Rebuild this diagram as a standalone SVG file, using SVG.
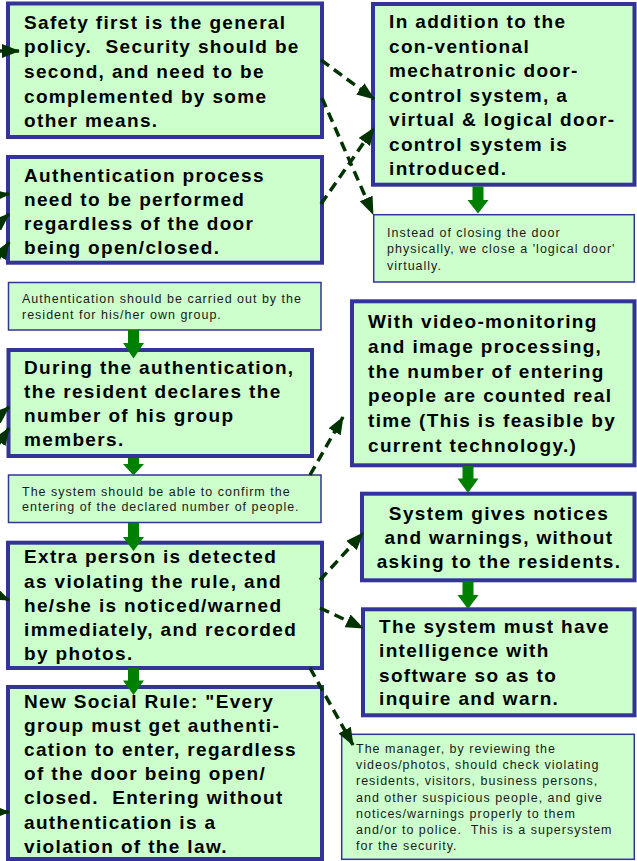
<svg xmlns="http://www.w3.org/2000/svg" width="637" height="861" viewBox="0 0 637 861">
  <style>
    .box { fill: #ccffcc; stroke: #333399; stroke-width: 4; }
    .note { fill: #ccffcc; stroke: #333399; stroke-width: 1.5; }
    .b { font-family: "Liberation Sans", Arial, sans-serif; font-weight: bold; font-size: 19px; letter-spacing: 1.35px; white-space: pre; fill: #000; }
    .s { font-family: "Liberation Sans", Arial, sans-serif; font-size: 12.5px; letter-spacing: 1px; white-space: pre; fill: #1a1a1a; }
    .flow { fill: #008000; }
    .dash { fill: none; stroke: #003300; stroke-width: 3.5; stroke-dasharray: 10 6; marker-end: url(#head); }
    .stub { fill: none; stroke: #003300; stroke-width: 3.5; marker-end: url(#head); }
  </style>
  <defs>
    <marker id="head" viewBox="0 0 18 14" refX="17" refY="7" markerWidth="18" markerHeight="14" markerUnits="userSpaceOnUse" orient="auto">
      <path d="M0,0 L18,7 L0,14 z" fill="#003300"/>
    </marker>
  </defs>

  <g id="safety-first">
    <rect class="box" x="8" y="3.5" width="314" height="133.5"/>
    <text class="b" x="24" y="28.5">Safety first is the general</text>
    <text class="b" x="24" y="53.2">policy.  Security should be</text>
    <text class="b" x="24" y="77.9">second, and need to be</text>
    <text class="b" x="24" y="102.6">complemented by some</text>
    <text class="b" x="24" y="127.3">other means.</text>
  </g>

  <g id="virtual-door">
    <rect class="box" x="373" y="4" width="261.5" height="180.7"/>
    <text class="b" x="389" y="28.3">In addition to the</text>
    <text class="b" x="389" y="52.8">con-ventional</text>
    <text class="b" x="389" y="77.3">mechatronic door-</text>
    <text class="b" x="389" y="101.8">control system, a</text>
    <text class="b" x="389" y="126.3">virtual &amp; logical door-</text>
    <text class="b" x="389" y="150.8">control system is</text>
    <text class="b" x="389" y="175.3">introduced.</text>
  </g>

  <g id="auth-process">
    <rect class="box" x="8" y="157" width="314" height="105.7"/>
    <text class="b" x="24" y="181.5">Authentication process</text>
    <text class="b" x="24" y="205.7">need to be performed</text>
    <text class="b" x="24" y="229.9">regardless of the door</text>
    <text class="b" x="24" y="254.1">being open/closed.</text>
  </g>

  <g id="auth-by-resident">
    <rect class="note" x="8.5" y="282.5" width="312.5" height="47.5"/>
    <text class="s" x="22" y="302.5">Authentication should be carried out by the</text>
    <text class="s" x="22" y="318.8">resident for his/her own group.</text>
  </g>

  <g id="logical-door">
    <rect class="note" x="373.7" y="214.7" width="260.6" height="67.3"/>
    <text class="s" x="387" y="236.7">Instead of closing the door</text>
    <text class="s" x="387" y="253.2">physically, we close a 'logical door'</text>
    <text class="s" x="387" y="269.5">virtually.</text>
  </g>

  <g id="declare-members">
    <rect class="box" x="8.5" y="350" width="303.5" height="106"/>
    <text class="b" x="24" y="373.5">During the authentication,</text>
    <text class="b" x="24" y="397.6">the resident declares the</text>
    <text class="b" x="24" y="421.7">number of his group</text>
    <text class="b" x="24" y="445.8">members.</text>
  </g>

  <g id="confirm-entering">
    <rect class="note" x="8.5" y="475" width="312.5" height="47.5"/>
    <text class="s" x="22" y="495.8">The system should be able to confirm the</text>
    <text class="s" x="22" y="511">entering of the declared number of people.</text>
  </g>

  <g id="video-monitoring">
    <rect class="box" x="352" y="301.3" width="282.5" height="164"/>
    <text class="b" x="368" y="328.3">With video-monitoring</text>
    <text class="b" x="368" y="353">and image processing,</text>
    <text class="b" x="368" y="377.7">the number of entering</text>
    <text class="b" x="368" y="402.4">people are counted real</text>
    <text class="b" x="368" y="427.1">time (This is feasible by</text>
    <text class="b" x="368" y="451.8">current technology.)</text>
  </g>

  <g id="notices-warnings">
    <rect class="box" x="362" y="493.7" width="272.5" height="86.6"/>
    <text class="b" x="499" y="520" text-anchor="middle">System gives notices</text>
    <text class="b" x="499" y="544" text-anchor="middle">and warnings, without</text>
    <text class="b" x="499" y="568.3" text-anchor="middle">asking to the residents.</text>
  </g>

  <g id="intelligence">
    <rect class="box" x="363" y="609.3" width="271.5" height="106"/>
    <text class="b" x="379" y="633.3">The system must have</text>
    <text class="b" x="379" y="657.3">intelligence with</text>
    <text class="b" x="379" y="681.6">software so as to</text>
    <text class="b" x="379" y="705.3">inquire and warn.</text>
  </g>

  <g id="extra-person">
    <rect class="box" x="8" y="542.7" width="314" height="125.3"/>
    <text class="b" x="24" y="563.3">Extra person is detected</text>
    <text class="b" x="24" y="587.5">as violating the rule, and</text>
    <text class="b" x="24" y="611.7">he/she is noticed/warned</text>
    <text class="b" x="24" y="635.9">immediately, and recorded</text>
    <text class="b" x="24" y="660.1">by photos.</text>
  </g>

  <g id="social-rule">
    <rect class="box" x="8" y="687" width="314" height="172"/>
    <text class="b" x="24" y="707.5">New Social Rule: "Every</text>
    <text class="b" x="24" y="731.7">group must get authenti-</text>
    <text class="b" x="24" y="755.9">cation to enter, regardless</text>
    <text class="b" x="24" y="780.1">of the door being open/</text>
    <text class="b" x="24" y="804.3">closed.  Entering without</text>
    <text class="b" x="24" y="828.5">authentication is a</text>
    <text class="b" x="24" y="852.7">violation of the law.</text>
  </g>

  <g id="manager-review">
    <rect class="note" x="341.7" y="734.3" width="292.6" height="125"/>
    <text class="s" x="356" y="753.3">The manager, by reviewing the</text>
    <text class="s" x="356" y="769.3">videos/photos, should check violating</text>
    <text class="s" x="356" y="785.3">residents, visitors, business persons,</text>
    <text class="s" x="356" y="801.7">and other suspicious people, and give</text>
    <text class="s" x="356" y="817.8">notices/warnings properly to them</text>
    <text class="s" x="356" y="833.5">and/or to police.  This is a supersystem</text>
    <text class="s" x="356" y="849.5">for the security.</text>
  </g>

  <g id="connectors">
    <!-- solid block arrows down the two columns -->
    <polygon class="flow" points="472.5,186.5 483.5,186.5 483.5,200 488.5,200 478,213.5 467.5,200 472.5,200"/>
    <polygon class="flow" points="128,330 139,330 139,343 144,343 133.5,358.5 123,343 128,343"/>
    <polygon class="flow" points="128,458 139,458 139,464 144,464 133.5,475.5 123,464 128,464"/>
    <polygon class="flow" points="128,523 139,523 139,537 144,537 133.5,551 123,537 128,537"/>
    <polygon class="flow" points="128,668 139,668 139,680.5 144,680.5 133.5,695 123,680.5 128,680.5"/>
    <polygon class="flow" points="462.5,466 473.5,466 473.5,478.5 478.5,478.5 468,493 457.5,478.5 462.5,478.5"/>
    <polygon class="flow" points="462.5,581 473.5,581 473.5,595 478.5,595 468,609 457.5,595 462.5,595"/>

    <!-- dashed cross links -->
    <path class="dash" d="M321,60 L374,99"/>
    <path class="dash" d="M322,98 L373,214"/>
    <path class="dash" d="M321,204 L374,128"/>
    <path class="dash" d="M310,475 L343,417"/>
    <path class="dash" d="M320,580 L363,533"/>
    <path class="dash" d="M320,608 L363,628"/>
    <path class="dash" d="M310,668 L353,745"/>

    <!-- links entering from beyond the left edge -->
    <path class="stub" d="M-30,51 L19,51"/>
    <path class="stub" d="M-30,198 L9,194"/>
    <path class="stub" d="M-20,240 L9,214"/>
    <path class="stub" d="M-12,275 L9,242"/>
    <path class="stub" d="M-20,432 L9,407"/>
    <path class="stub" d="M-12,460 L9,428"/>
    <path class="stub" d="M-25,585 L9,600"/>
    <path class="stub" d="M-30,812 L9,812"/>
  </g>
</svg>
